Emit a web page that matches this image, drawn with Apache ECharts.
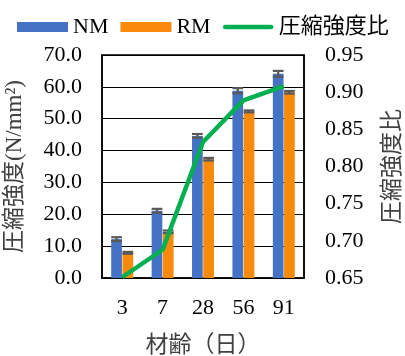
<!DOCTYPE html>
<html>
<head>
<meta charset="utf-8">
<script src="https://cdn.jsdelivr.net/npm/echarts@6/dist/echarts.min.js"></script>
<style>
  html, body { margin: 0; padding: 0; background: #fff; }
  #chart { width: 405px; height: 356px; }
</style>
</head>
<body>
<div id="chart"></div>
<script>
// Age categories (days)
const ages = ['3', '7', '28', '56', '91'];
// Compressive strength (N/mm²)
const nmStrength = [12.2, 21.1, 44.6, 58.8, 64.1];
const rmStrength = [7.9, 14.5, 37.3, 52.3, 58.3];
// Error half-widths for each series
const nmError = [0.6, 0.6, 0.6, 0.8, 0.9];
const rmError = [0.3, 0.4, 0.4, 0.3, 0.4];
// Strength ratio RM / NM
const strengthRatio = [0.651, 0.688, 0.833, 0.889, 0.908];

const FONT = "'Liberation Serif', 'Noto Sans CJK JP', serif";
const BAR_W = 0.265;   // fraction of category band
const BAR_GAP = 0.05;  // fraction of bar width

function errorSeries(name, values, errors, side) {
  return {
    name: name + '_err',
    type: 'custom',
    yAxisIndex: 0,
    z: 5,
    silent: true,
    data: values.map((v, i) => [i, v - errors[i], v + errors[i]]),
    renderItem: function (params, api) {
      const i = api.value(0);
      const lo = api.coord([i, api.value(1)]);
      const hi = api.coord([i, api.value(2)]);
      const band = api.size([1, 0])[0];
      const bw = band * BAR_W;
      const x = lo[0] + side * (bw * (1 + BAR_GAP)) / 2;
      const half = bw / 2;
      const style = { stroke: '#595959', lineWidth: 2.2 };
      return {
        type: 'group',
        children: [
          { type: 'line', shape: { x1: x, y1: hi[1], x2: x, y2: lo[1] }, style: style },
          { type: 'line', shape: { x1: x - half, y1: hi[1], x2: x + half, y2: hi[1] }, style: style },
          { type: 'line', shape: { x1: x - half, y1: lo[1], x2: x + half, y2: lo[1] }, style: style }
        ]
      };
    }
  };
}

// thin rounded stroke inside a 51x10 box, used as the legend mark of the ratio line
const LINE_ICON = 'path://M0,0 M2.5,2.75 L48.5,2.75 A2.25,2.25 0 0 1 48.5,7.25 L2.5,7.25 A2.25,2.25 0 0 1 2.5,2.75 Z M51,10';

// tick labels drawn as rich text so the serif face is applied to the digits
function numLabel(margin, digits) {
  return {
    margin: margin,
    interval: 0,
    formatter: v => '{n|' + (digits == null ? v : Number(v).toFixed(digits)) + '}',
    rich: { n: { fontFamily: 'Liberation Serif', fontSize: 22, color: '#000' } }
  };
}

const chart = echarts.init(document.getElementById('chart'), null, { renderer: 'canvas' });
chart.setOption({
  animation: false,
  backgroundColor: '#fff',
  textStyle: { fontFamily: FONT, color: '#000' },
  legend: {
    left: 12,
    top: 11,
    itemWidth: 51,
    itemHeight: 10,
    itemGap: 12,
    textStyle: { fontFamily: FONT, fontSize: 22, color: '#000' },
    data: [
      { name: 'NM', icon: 'rect' },
      { name: 'RM', icon: 'rect' },
      { name: '圧縮強度比', icon: LINE_ICON }
    ]
  },
  grid: {
    left: 102, right: 101, top: 55, bottom: 78,
    outerBoundsMode: 'none',
    containLabel: false,
    show: true, borderColor: '#000', borderWidth: 1.5
  },
  xAxis: {
    type: 'category',
    data: ages,
    name: '材齢（日）',
    nameLocation: 'middle',
    nameGap: 56,
    nameTextStyle: { fontFamily: FONT, fontSize: 23, color: '#404040' },
    axisLine: { show: true, lineStyle: { color: '#000', width: 1.5 } },
    axisTick: { show: false },
    axisLabel: numLabel(19, null)
  },
  yAxis: [
    {
      type: 'value',
      min: 0, max: 70, interval: 10,
      name: '圧縮強度(N/mm²)',
      nameLocation: 'middle',
      nameRotate: 90,
      nameGap: 76,
      nameTextStyle: { fontFamily: FONT, fontSize: 23, color: '#404040' },
      axisLine: { show: true, lineStyle: { color: '#000', width: 1.5 } },
      axisTick: { show: false },
      axisLabel: numLabel(20, 1),
      splitLine: { show: true, lineStyle: { color: '#000', width: 1.2 } }
    },
    {
      type: 'value',
      min: 0.65, max: 0.95, interval: 0.05,
      name: '圧縮強度比',
      nameLocation: 'middle',
      nameRotate: 90,
      nameGap: 77,
      nameTextStyle: { fontFamily: FONT, fontSize: 23, color: '#404040' },
      axisLine: { show: true, lineStyle: { color: '#000', width: 1.5 } },
      axisTick: { show: false },
      axisLabel: numLabel(21, 2),
      splitLine: { show: false }
    }
  ],
  series: [
    {
      name: 'NM', type: 'bar', yAxisIndex: 0,
      data: nmStrength,
      barWidth: (BAR_W * 100) + '%',
      barGap: (BAR_GAP * 100) + '%',
      itemStyle: { color: '#4472C4' },
      z: 3
    },
    {
      name: 'RM', type: 'bar', yAxisIndex: 0,
      data: rmStrength,
      barWidth: (BAR_W * 100) + '%',
      barGap: (BAR_GAP * 100) + '%',
      itemStyle: { color: '#F98A0B' },
      z: 3
    },
    errorSeries('NM', nmStrength, nmError, -1),
    errorSeries('RM', rmStrength, rmError, 1),
    {
      name: '圧縮強度比', type: 'line', yAxisIndex: 1,
      data: strengthRatio,
      symbol: 'none',
      lineStyle: { color: '#00B050', width: 4.5 },
      itemStyle: { color: '#00B050' },
      z: 10
    }
  ]
});
</script>
</body>
</html>
